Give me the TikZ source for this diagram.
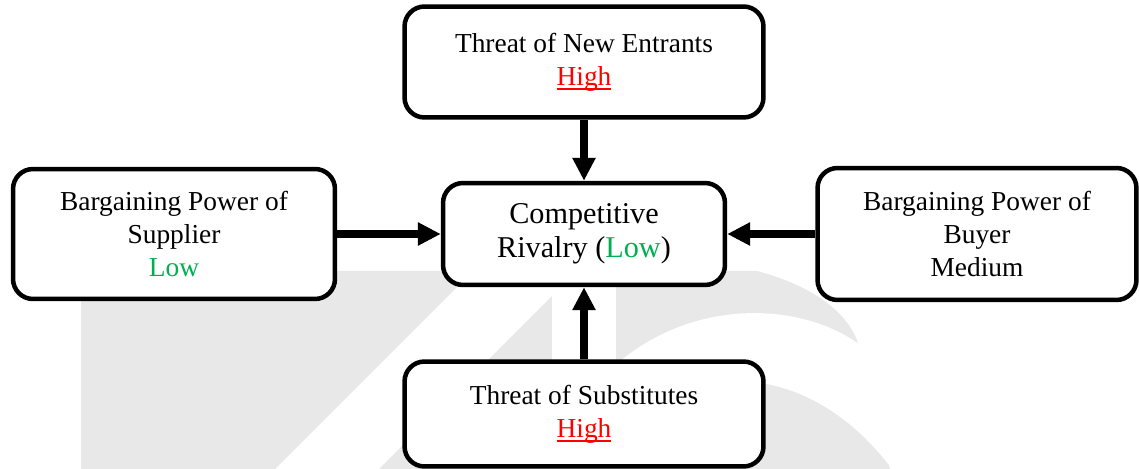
\documentclass[tikz,border=0pt]{standalone}
\usepackage{fontspec}
\setmainfont{Liberation Serif}
\usetikzlibrary{arrows.meta}

\newcommand{\highmark}[1]{\textcolor{highred}{\setbox0\hbox{#1}\rlap{\rule[-2.6pt]{\wd0}{1.2pt}}\box0}}

\begin{document}
\begin{tikzpicture}[x=0.02cm,y=-0.02cm,
  forcebox/.style={draw,line width=0.09cm,rounded corners=0.4cm,fill=white,
    align=center,inner sep=0pt,font=\fontsize{15.6}{18.8}\selectfont},
  pusharrow/.style={line width=0.16cm,-{Triangle[width=0.44cm,length=0.46cm]}}]
  \definecolor{lowgreen}{HTML}{00B050}
  \definecolor{highred}{HTML}{FF0000}
  \definecolor{markgray}{HTML}{E8E8E8}

  \useasboundingbox (0,0) rectangle (1139,469);

  % watermark
  \fill[markgray] (81,271) -- (473,271) -- (275,469) -- (81,469) -- cycle;
  \fill[markgray] (577,271) -- (757,271) .. controls (810,285) and (845,310) .. (857,340)
    -- (890,469) -- (379,469) -- cycle;
  \fill[white] (860,345) .. controls (800,300) and (680,295) .. (600,380)
    -- (600,440) .. controls (680,360) and (810,350) .. (900,480) -- cycle;
  \fill[white] (552,285) rectangle (616,362);

  % forces
  \node[forcebox,minimum width=7.18cm,minimum height=2.22cm] (entrants) at (584,62)
    {Threat of New Entrants\\ \highmark{High}};
  \node[forcebox,minimum width=6.44cm,minimum height=2.6cm] (supplier) at (174,234)
    {Bargaining Power of\\ Supplier\\ \textcolor{lowgreen}{Low}};
  \node[forcebox,minimum width=5.64cm,minimum height=2.04cm,
    font=\fontsize{17.2}{19.2}\selectfont] (rivalry) at (584,234)
    {Competitive\\ Rivalry (\textcolor{lowgreen}{Low})};
  \node[forcebox,minimum width=6.38cm,minimum height=2.64cm] (buyer) at (977,234)
    {Bargaining Power of\\ Buyer\\ Medium};
  \node[forcebox,minimum width=7.18cm,minimum height=2.1cm] (substitutes) at (584,414)
    {Threat of Substitutes\\ \highmark{High}};

  \draw[pusharrow] (entrants) -- (rivalry);
  \draw[pusharrow] (supplier) -- (rivalry);
  \draw[pusharrow] (buyer) -- (rivalry);
  \draw[pusharrow] (substitutes) -- (rivalry);
\end{tikzpicture}
\end{document}
